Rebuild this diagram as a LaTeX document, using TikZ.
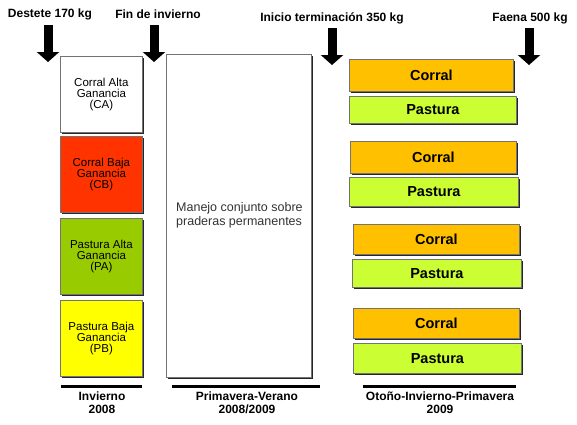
\documentclass[tikz,border=0pt]{standalone}
\usepackage{fontspec}
\setmainfont{Liberation Sans}
\usetikzlibrary{arrows.meta,shadows}
\definecolor{rojo}{HTML}{FF3300}
\definecolor{verde}{HTML}{99CC00}
\definecolor{amarillo}{HTML}{FFFF00}
\definecolor{naranja}{HTML}{FFC000}
\definecolor{lima}{HTML}{CCFF33}
\tikzset{
  caja/.style={draw=black!55, line width=0.8pt, anchor=north west, inner sep=0pt, align=center,
    general shadow={fill=black!85, shadow xshift=1.3pt, shadow yshift=-1.3pt}},
  etapa/.style={caja, minimum width=82pt, minimum height=76pt, font=\fontsize{11.5}{11}\selectfont},
  tramo/.style={caja, font=\fontsize{14.5}{16}\selectfont\bfseries},
  hito/.style={line width=9pt, -{Triangle[width=22pt,length=10pt]}},
  rotulo/.style={font=\fontsize{12}{13}\selectfont\bfseries, align=center},
  barra/.style={line width=3.5pt}
}
\begin{document}
\begin{tikzpicture}[x=1pt,y=-1pt]
          \useasboundingbox (0,0) rectangle (577,424);

          \node[rotulo] (destete) at (50,14) {Destete 170 kg};
          \node[rotulo] (fin) at (158,14) {Fin de invierno};
          \node[rotulo] (inicio) at (332,18) {Inicio terminación 350 kg};
          \node[rotulo] (faena) at (530,18) {Faena 500 kg};

          \coordinate (d1) at (48,25);  \coordinate (d2) at (48,62);
          \coordinate (f1) at (154,25); \coordinate (f2) at (154,62);
          \coordinate (i1) at (332,28); \coordinate (i2) at (332,65);
          \coordinate (e1) at (529,28); \coordinate (e2) at (529,65);
          \draw[hito] (d1) -- (d2);
          \draw[hito] (f1) -- (f2);
          \draw[hito] (i1) -- (i2);
          \draw[hito] (e1) -- (e2);

          \node[etapa, fill=white] (ca) at (60,56) {Corral Alta\\Ganancia\\(CA)};
          \node[etapa, fill=rojo] (cb) at (60,136) {Corral Baja\\Ganancia\\(CB)};
          \node[etapa, fill=verde] (pa) at (60,218) {Pastura Alta\\Ganancia\\(PA)};
          \node[etapa, fill=amarillo] (pb) at (60,300) {Pastura Baja\\Ganancia\\(PB)};

          \node[caja, fill=white, minimum width=145pt, minimum height=323pt] (manejo) at (166,54) {};
          \node[anchor=north west, align=left, inner sep=0pt, text=black!80,
            font=\fontsize{12.5}{14}\selectfont] (conjunto) at (176,202) {Manejo conjunto sobre\\praderas permanentes};

          \node[tramo, fill=naranja, minimum width=164pt, minimum height=32pt] (corral1) at (349,59) {Corral};
          \node[tramo, fill=lima, minimum width=167pt, minimum height=27pt] (pastura1) at (349,96) {Pastura};
          \node[tramo, fill=naranja, minimum width=166pt, minimum height=32pt] (corral2) at (350,141) {Corral};
          \node[tramo, fill=lima, minimum width=169pt, minimum height=29pt] (pastura2) at (349,177) {Pastura};
          \node[tramo, fill=naranja, minimum width=166pt, minimum height=30pt] (corral3) at (353,224) {Corral};
          \node[tramo, fill=lima, minimum width=169pt, minimum height=28pt] (pastura3) at (352,259) {Pastura};
          \node[tramo, fill=naranja, minimum width=166pt, minimum height=30pt] (corral4) at (353,308) {Corral};
          \node[tramo, fill=lima, minimum width=168pt, minimum height=30pt] (pastura4) at (353,343) {Pastura};

          \coordinate (b1) at (61,386.5);  \coordinate (b2) at (142,386.5);
          \coordinate (b3) at (172,386.5); \coordinate (b4) at (320,386.5);
          \coordinate (b5) at (363,386.5); \coordinate (b6) at (516,386.5);
          \draw[barra] (b1) -- (b2);
          \draw[barra] (b3) -- (b4);
          \draw[barra] (b5) -- (b6);

          \node[rotulo] (invierno) at (102,402.5) {Invierno\\2008};
          \node[rotulo] (verano) at (247,402.5) {Primavera-Verano\\2008/2009};
          \node[rotulo] (otono) at (440,402.5) {Otoño-Invierno-Primavera\\2009};
        \end{tikzpicture}
\end{document}
